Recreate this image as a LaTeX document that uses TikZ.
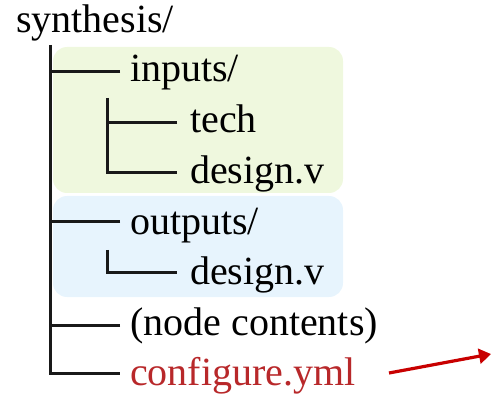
\documentclass[tikz,border=0pt]{standalone}
\usepackage{fontspec}
\setmainfont{Liberation Serif}
\usetikzlibrary{calc,arrows.meta}
\definecolor{boxgreen}{HTML}{EFF8DE}
\definecolor{boxblue}{HTML}{E7F4FD}
\definecolor{cfgred}{HTML}{B8282A}
\definecolor{arrred}{HTML}{C80000}
\tikzset{
  item/.style={inner sep=0pt, anchor=base west, font=\fontsize{40}{48}\selectfont},
  treeline/.style={line width=3pt, black!90},
  greenpanel/.style={fill=boxgreen, rounded corners=14pt},
  bluepanel/.style={fill=boxblue, rounded corners=14pt},
  redarrow/.style={line width=3.2pt, arrred, -{Triangle[length=12pt,width=15pt]}}
}
\begin{document}
\begin{tikzpicture}[x=1pt,y=-1pt]
\useasboundingbox (0,0) rectangle (491,396);
\fill[greenpanel] (53,47) rectangle (343,193);
\fill[bluepanel] (53,196) rectangle (343,297);
\node[item] (root) at (16,33) {synthesis/};
\node[item] (inputs) at (130,82) {inputs/};
\node[item] (tech) at (190,133) {tech};
\node[item] (d1) at (190,183) {design.v};
\node[item] (outputs) at (130,234) {outputs/};
\node[item] (d2) at (190,284) {design.v};
\node[item] (nc) at (130,335) {(node contents)};
\node[item, text=cfgred] (cfg) at (130,385) {configure.yml};
% main trunk
\coordinate (trunktop) at (50,45);
\draw[treeline] (trunktop) |- ($(cfg.base west)+(-10,-12)$);
\draw[treeline] ($(inputs.base west)+(-10,-10)$) -- +(-70,0);
\draw[treeline] ($(outputs.base west)+(-10,-12)$) -- +(-70,0);
\draw[treeline] ($(nc.base west)+(-10,-10)$) -- +(-70,0);
% inputs subtree
\coordinate (intop) at (107,98);
\draw[treeline] (intop) |- ($(d1.base west)+(-13,-10)$);
\draw[treeline] ($(tech.base west)+(-13,-10)$) -- +(-70,0);
% outputs subtree
\coordinate (outtop) at (107,250);
\draw[treeline] (outtop) |- ($(d2.base west)+(-13,-12)$);
% arrow
\coordinate (arrstart) at (389,373);
\coordinate (arrend) at (491,354);
\draw[redarrow] (arrstart) -- (arrend);
\end{tikzpicture}
\end{document}
